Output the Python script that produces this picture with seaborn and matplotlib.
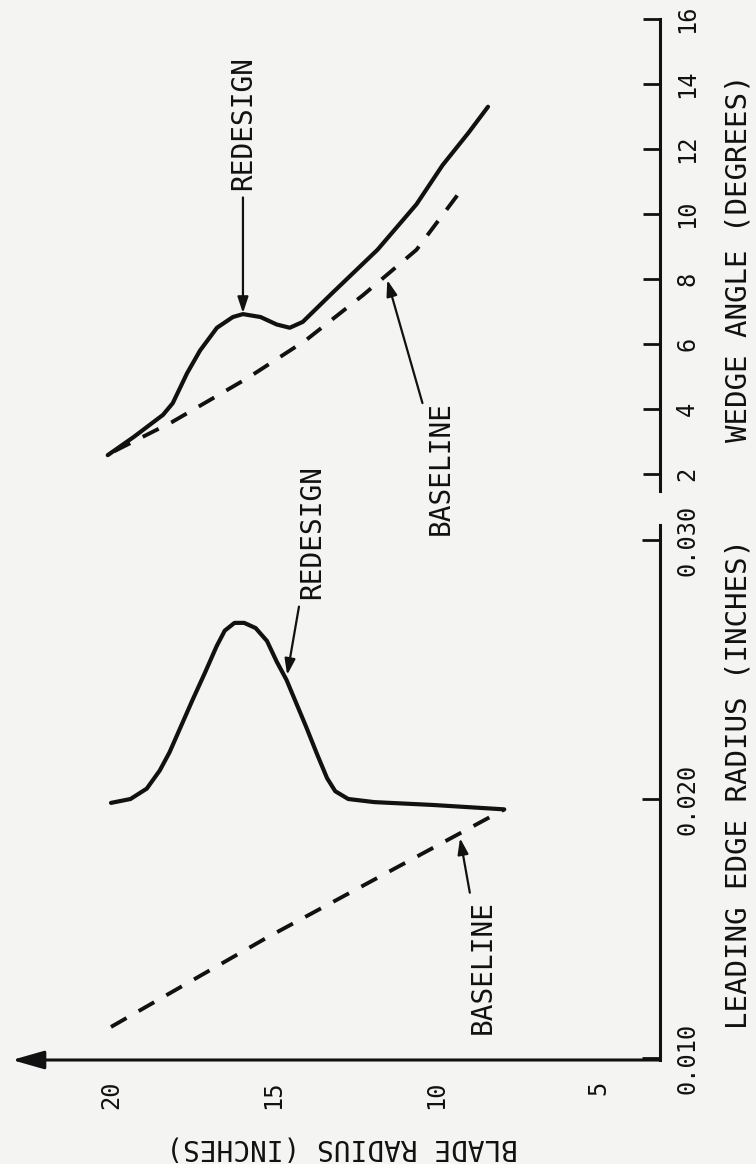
import numpy as np
import pandas as pd
import matplotlib
matplotlib.use('Agg')
import matplotlib.pyplot as plt
import seaborn as sns

sns.set_style('white')
plt.rcParams['font.family'] = ['DejaVu Sans Mono', 'DejaVu Sans']

# --- values (blade radius in inches) ---
le_redesign_r = [20.0, 19.4, 18.9, 18.5, 18.2, 17.85, 17.5, 17.1, 16.75, 16.5, 16.2, 15.9,
                 15.55, 15.2, 14.9, 14.6, 14.3, 14.0, 13.65, 13.35, 13.1, 12.7, 11.9, 10.1, 7.9]
le_redesign_v = [0.01985, 0.0200, 0.0204, 0.0211, 0.0218, 0.0228, 0.0238, 0.0249, 0.0259, 0.0265,
                 0.0268, 0.0268, 0.0266, 0.0261, 0.0253, 0.0246, 0.0237, 0.0228, 0.0217, 0.0208,
                 0.0203, 0.0200, 0.01988, 0.01977, 0.0196]
le_baseline_r = [20.0, 15.2, 7.9]
le_baseline_v = [0.0112, 0.01465, 0.0196]

wedge_redesign_r = [20.1, 19.3, 18.4, 18.1, 17.66, 17.26, 16.74, 16.25, 15.94, 15.4, 14.9, 14.5,
                    14.1, 13.2, 11.8, 10.6, 9.8, 9.0, 8.4]
wedge_redesign_v = [2.58, 3.14, 3.82, 4.18, 5.1, 5.8, 6.5, 6.83, 6.92, 6.83, 6.6, 6.5,
                    6.68, 7.56, 8.9, 10.3, 11.5, 12.5, 13.3]
wedge_baseline_r = [19.9, 18.12, 15.8, 14.0, 12.25, 10.6, 9.1]
wedge_baseline_v = [2.7, 3.6, 4.95, 6.12, 7.5, 8.9, 10.9]

blade_ticks = [20, 15, 10, 5]
le_ticks = [0.010, 0.020, 0.030]
le_tick_labels = ['0.010', '0.020', '0.030']
wedge_ticks = [2, 4, 6, 8, 10, 12, 14, 16]

W, H = 756, 1164
ink = '#111111'
bg = '#f4f4f2'

fig = plt.figure(figsize=(W / 100, H / 100), dpi=100)
fig.patch.set_facecolor(bg)


def px_box(x0, y0, x1, y1):
    # pixel box (top-left origin) -> figure fraction rect
    return [x0 / W, 1 - y1 / H, (x1 - x0) / W, (y1 - y0) / H]


ax_le = fig.add_axes(px_box(12, 525, 660, 1060))
ax_wd = fig.add_axes(px_box(12, 19, 660, 491))
for ax in (ax_le, ax_wd):
    ax.set_facecolor('none')
    ax.set_xlim(23.046, 3.108)
    for s in ('left', 'top', 'bottom'):
        ax.spines[s].set_visible(False)
    ax.spines['right'].set_linewidth(2.2)
    ax.spines['right'].set_color(ink)
    ax.yaxis.set_ticks_position('right')

ax_le.set_ylim(0.009923, 0.030579)
ax_wd.set_ylim(1.477, 16.0)

# curves
solid = dict(color=ink, lw=3.0, sort=False, estimator=None, solid_capstyle='round')
dashed = dict(color=ink, lw=2.8, sort=False, estimator=None, linestyle=(0, (4.6, 3.6)))
sns.lineplot(x=le_redesign_r, y=le_redesign_v, ax=ax_le, **solid)
sns.lineplot(x=le_baseline_r, y=le_baseline_v, ax=ax_le, **dashed)
sns.lineplot(x=wedge_redesign_r, y=wedge_redesign_v, ax=ax_wd, **solid)
sns.lineplot(x=wedge_baseline_r, y=wedge_baseline_v, ax=ax_wd, **dashed)

# blade radius axis with arrow
ax_le.annotate('', xy=(0, 0), xytext=(1, 0), xycoords='axes fraction',
               arrowprops=dict(arrowstyle='-|>,head_length=0.7,head_width=0.2', lw=2.2,
                               color=ink, shrinkA=0, shrinkB=0, mutation_scale=28),
               annotation_clip=False)
ax_le.set_xticks(blade_ticks)
ax_le.set_xticklabels([str(t) for t in blade_ticks])
ax_le.tick_params(axis='x', direction='in', length=11, width=2, color=ink,
                  labelsize=17, labelrotation=90, pad=15, labelcolor=ink)

ax_le.set_yticks(le_ticks)
ax_le.set_yticklabels(le_tick_labels)
ax_le.tick_params(axis='y', direction='in', length=13, width=2, color=ink,
                  labelsize=17, labelrotation=90, pad=11, labelcolor=ink)

ax_wd.set_xticks([])
ax_wd.set_yticks(wedge_ticks)
ax_wd.set_yticklabels([str(t) for t in wedge_ticks])
ax_wd.tick_params(axis='y', direction='in', length=12, width=2, color=ink,
                  labelsize=17, labelrotation=90, pad=11, labelcolor=ink)
for ax in (ax_le, ax_wd):
    for lab in ax.get_yticklabels():
        lab.set_va('center')
    ax.set_xlabel('')
    ax.set_ylabel('')

# annotations
arrow = dict(arrowstyle='-|>,head_length=0.6,head_width=0.2', lw=1.6, color=ink,
             shrinkA=3, shrinkB=0, mutation_scale=16)
note = dict(rotation=90, ha='center', va='center', fontsize=20, color=ink,
            arrowprops=arrow, annotation_clip=False)
ax_le.annotate('BASELINE', xy=(9.26, 0.01849), xytext=(8.55, 0.01351), **note)
ax_le.annotate('REDESIGN', xy=(14.58, 0.02479), xytext=(13.82, 0.0303), **note)
ax_wd.annotate('REDESIGN', xy=(15.94, 6.95), xytext=(15.94, 12.8), **note)
ax_wd.annotate('BASELINE', xy=(11.5, 7.97), xytext=(9.85, 2.2), **note)

# axis titles
fig.text(342 / W, 1 - 1147 / H, 'BLADE RADIUS (INCHES)', rotation=180,
         ha='center', va='center', fontsize=20, color=ink)
fig.text(738 / W, 1 - 784 / H, 'LEADING EDGE RADIUS (INCHES)', rotation=90,
         ha='center', va='center', fontsize=21, color=ink)
fig.text(738 / W, 1 - 258 / H, 'WEDGE ANGLE (DEGREES)', rotation=90,
         ha='center', va='center', fontsize=21, color=ink)

fig.savefig('out.png', dpi=100, facecolor=bg)
